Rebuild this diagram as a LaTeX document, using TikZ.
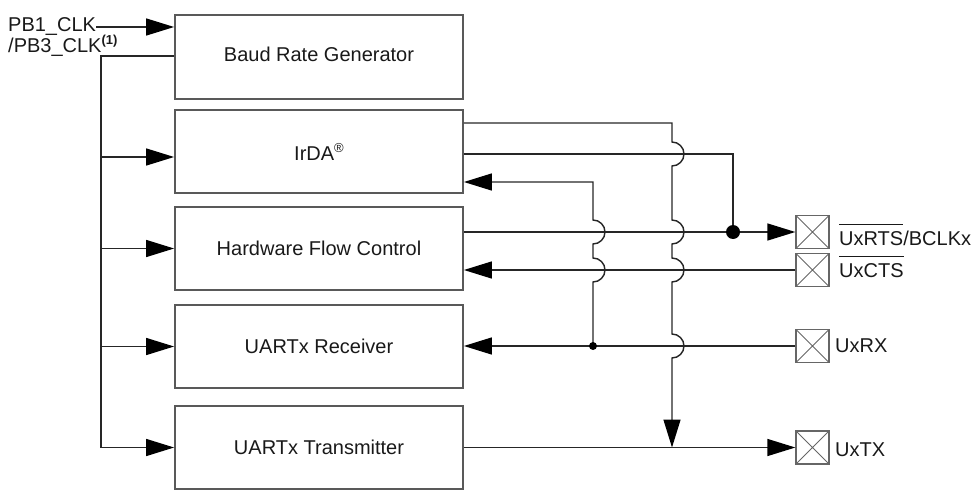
\documentclass[tikz,border=0pt]{standalone}
\usepackage{fontspec}
\setmainfont{Liberation Sans}
\usetikzlibrary{arrows.meta}
\newcommand\barred[1]{\setbox0\hbox{#1}\rlap{\rule[20pt]{\wd0}{1.5pt}}\box0}
\begin{document}
\begin{tikzpicture}[x=1pt,y=-1pt,
  >={Triangle[length=28pt,width=17pt,color=black]},
  txt/.style={font=\fontsize{20}{24}\selectfont, text=black!90, inner sep=0pt},
  blk/.style={txt, draw=black!65, line width=1.8pt, minimum width=288pt, minimum height=83pt},
  wire/.style={draw=black!85, line width=1.4pt},
  pinbox/.style={draw=black!60, line width=1.3pt, minimum size=33pt, inner sep=0pt,
    path picture={\draw[black!60, line width=1pt]
      (path picture bounding box.north west) -- (path picture bounding box.south east)
      (path picture bounding box.north east) -- (path picture bounding box.south west);}},
  bigdot/.style={circle, fill=black, inner sep=0pt, minimum size=14pt},
  smalldot/.style={circle, fill=black, inner sep=0pt, minimum size=8pt}]
\useasboundingbox (0,0) rectangle (979,492);

% blocks
\node[blk, minimum height=84pt, text depth=6pt] (baud) at (319,57) {Baud Rate Generator};
\node[blk] (irda) at (319,151.5) {IrDA\raisebox{8pt}{\fontsize{13}{13}\selectfont\textregistered}};
\node[blk] (hfc) at (319,248.5) {Hardware Flow Control};
\node[blk] (rx) at (319,346.5) {UARTx Receiver};
\node[blk] (tx) at (319,447.5) {UARTx Transmitter};

% pins
\node[pinbox] (prts) at (812.5,232) {};
\node[pinbox] (pcts) at (812.5,270) {};
\node[pinbox] (prx) at (812.5,346) {};
\node[pinbox] (ptx) at (812.5,447.5) {};

% pin labels
\node[txt, anchor=base west] (lrts) at (839,245) {\barred{UxRTS}/BCLKx};
\node[txt, anchor=base west] (lcts) at (839,277) {\barred{UxCTS}};
\node[txt, anchor=base west] (lrx) at (835,352) {UxRX};
\node[txt, anchor=base west] (ltx) at (835,456) {UxTX};

% clock inputs
\node[txt, anchor=base west] (pb1) at (8,32) {PB1\_CLK};
\node[txt, anchor=base west] (pb3) at (8,53) {/PB3\_CLK\raisebox{8pt}{\fontsize{13}{13}\selectfont\bfseries(1)}};

% junction coordinates
\coordinate (b0) at (101,56);
\coordinate (a1) at (672,123);
\coordinate (a2) at (733,154);
\coordinate (a3) at (593,182);
\coordinate (t1) at (672,447.5);
\coordinate (d1) at (733,232);
\coordinate (d2) at (593,346);

% clock bus
\draw[wire,->] (pb1.east |- 0,27) -- (baud.west |- 0,27);
\draw[wire] (baud.west |- b0) -- (b0) -- (b0 |- tx.west);
\draw[wire,->] (b0 |- tx.west) -- (tx.west);
\draw[wire,->] (b0 |- 0,157) -- ([yshift=-5.5pt]irda.west);
\draw[wire,->] (b0 |- hfc.west) -- (hfc.west);
\draw[wire,->] (b0 |- rx.west) -- (rx.west);

% IrDA to TX path (with crossings)
\draw[wire,->] (irda.east |- a1) -- (a1)
  -- (672,142) arc[start angle=90, end angle=-90, radius=12pt]
  -- (672,220) arc[start angle=90, end angle=-90, radius=12pt]
  -- (672,258) arc[start angle=90, end angle=-90, radius=12pt]
  -- (672,334) arc[start angle=90, end angle=-90, radius=12pt]
  -- (t1);

% IrDA to RTS
\draw[wire] (irda.east |- a2) -- (a2) -- (d1);

% RX to IrDA
\draw[wire,<-] (irda.east |- a3) -- (a3)
  -- (593,220) arc[start angle=90, end angle=-90, radius=12pt]
  -- (593,258) arc[start angle=90, end angle=-90, radius=12pt]
  -- (d2);

% horizontal signals
\draw[wire,->] (hfc.east |- prts.west) -- (prts.west);
\draw[wire,->] (pcts.west) -- (hfc.east |- pcts.west);
\draw[wire,->] (prx.west) -- (rx.east |- prx.west);
\draw[wire,->] (tx.east) -- (ptx.west);

% junction dots
\node[bigdot] (dot1) at (d1) {};
\node[smalldot] (dot2) at (d2) {};
\end{tikzpicture}
\end{document}
